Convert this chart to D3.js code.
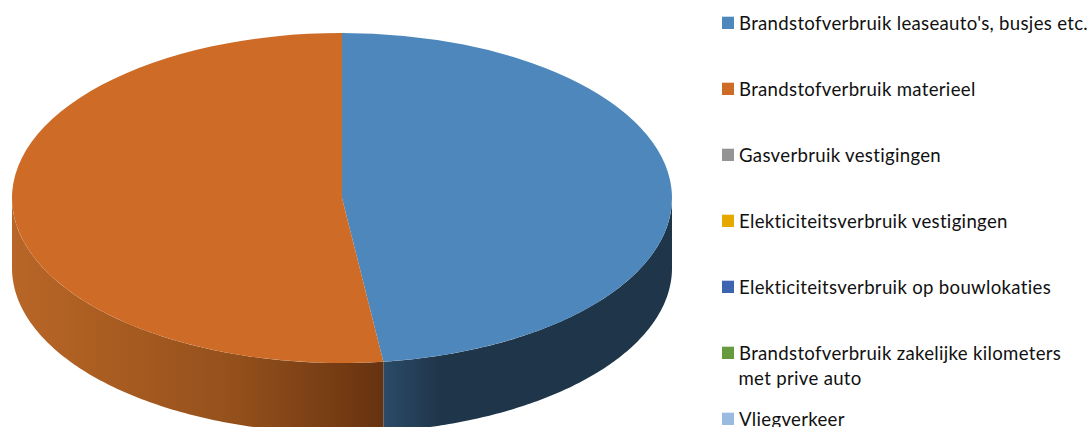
<!DOCTYPE html>
<html><head><meta charset="utf-8">
<script src="https://cdn.jsdelivr.net/npm/d3@7"></script>
<style>html,body{margin:0;padding:0;background:#fff;overflow:hidden}svg{display:block}text{font-family:Lato,"Open Sans",sans-serif;font-size:18.6px;letter-spacing:0.31px;font-variant-ligatures:none;fill:#111}</style>
</head><body><svg id="c" width="1091" height="427"></svg>
<script>
const categories = ["Brandstofverbruik leaseauto's, busjes etc.","Brandstofverbruik materieel","Gasverbruik vestigingen","Elekticiteitsverbruik vestigingen","Elekticiteitsverbruik op bouwlokaties","Brandstofverbruik zakelijke kilometers\nmet prive auto","Vliegverkeer"];
const values = [48, 52, 0, 0, 0, 0, 0];
const colors = ["#4d87bb","#cd6b27","#949494","#e6a900","#3d64ae","#659a3e","#9abbe0"];
const sideStops = [
  [[0,"#2b4b68"],[0.2,"#1f3549"],[1,"#1f3549"]],
  [[0,"#b86628"],[0.2,"#ad5f22"],[0.6,"#94501c"],[0.9,"#733a13"],[1,"#653210"]]
];
const cx=342, cy=198, rx=330, ry=165, depth=70;
const svg=d3.select("#c"), defs=svg.append("defs");
const arcs=d3.pie().sort(null).value(d=>d)(values);
const px=a=>cx+rx*Math.sin(a), py=a=>cy-ry*Math.cos(a);

// side wall: only the front half of the rim is visible
const line=d3.line().x(d=>d[0]).y(d=>d[1]);
arcs.forEach((s,i)=>{
  const a0=Math.max(s.startAngle,Math.PI/2), a1=Math.min(s.endAngle,Math.PI*1.5);
  if(a1<=a0) return;
  const t=d3.range(0,121).map(k=>a0+(a1-a0)*k/120);
  const pts=t.map(a=>[px(a),py(a)]).concat(t.slice().reverse().map(a=>[px(a),py(a)+depth]));
  const g=defs.append("linearGradient").attr("id","side"+i);
  sideStops[i].forEach(st=>g.append("stop").attr("offset",st[0]).attr("stop-color",st[1]));
  svg.append("path").attr("d",line(pts)+"Z").attr("fill",`url(#side${i})`);
});

// top face
const arc=d3.arc().innerRadius(0).outerRadius(rx);
const topFace=svg.append("g").attr("transform",`translate(${cx},${cy}) scale(1,${ry/rx})`);
topFace.selectAll("path").data(arcs).join("path").attr("d",arc).attr("fill",(d,i)=>colors[i]);

// legend
const y=d3.scalePoint().domain(d3.range(categories.length)).range([30,426]);
const leg=svg.append("g");
categories.forEach((c,i)=>{
  leg.append("rect").attr("x",722).attr("y",y(i)-13.3).attr("width",12).attr("height",12.3).attr("fill",colors[i]);
  c.split("\n").forEach((l,j)=>{
    leg.append("text").attr("x",j?738.5:739).attr("y",y(i)+j*25).text(l);
  });
});
</script></body></html>
